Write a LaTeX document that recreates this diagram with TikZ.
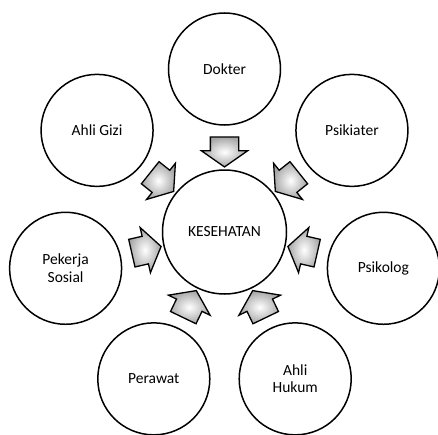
\documentclass[tikz,border=0pt]{standalone}
\usepackage{fontspec}
\setmainfont{Carlito}
\usetikzlibrary{shapes.arrows,calc}

\begin{document}
\begin{tikzpicture}[x=1pt,y=1pt,
		peran/.style={draw, circle, line width=1.5pt, minimum size=112pt, inner sep=0pt, align=center, font=\fontsize{15.5}{17.5}\selectfont},
		panah/.style={draw, single arrow, line width=1.3pt, inner xsep=0pt, inner ysep=13.5pt, minimum height=30pt, single arrow head extend=9pt, single arrow tip angle=110, shading=radial, inner color=white, outer color=black!35}]
		\useasboundingbox (-224.5,232) rectangle (213.5,-202);

		\node[peran, minimum size=124pt] (kesehatan) at (0,0) {KESEHATAN};

		\node[peran] (dokter) at (90:163) {Dokter};
		\node[peran] (ahligizi) at (141.43:163) {Ahli Gizi};
		\node[peran] (pekerja) at (192.86:163) {Pekerja\\Sosial};
		\node[peran] (perawat) at (244.29:163) {Perawat};
		\node[peran] (ahlihukum) at (295.71:163) {Ahli\\Hukum};
		\node[peran] (psikolog) at (347.14:163) {Psikolog};
		\node[peran] (psikiater) at (38.57:163) {Psikiater};

		% panah ke tengah
		\foreach \n/\a in {dokter/90, ahligizi/141.43, pekerja/192.86, perawat/244.29, ahlihukum/295.71, psikolog/347.14, psikiater/38.57}
			\node[panah, rotate=\a+180] (panah-\n) at ($(kesehatan)!85pt!(\n)$) {};
	\end{tikzpicture}
\end{document}
